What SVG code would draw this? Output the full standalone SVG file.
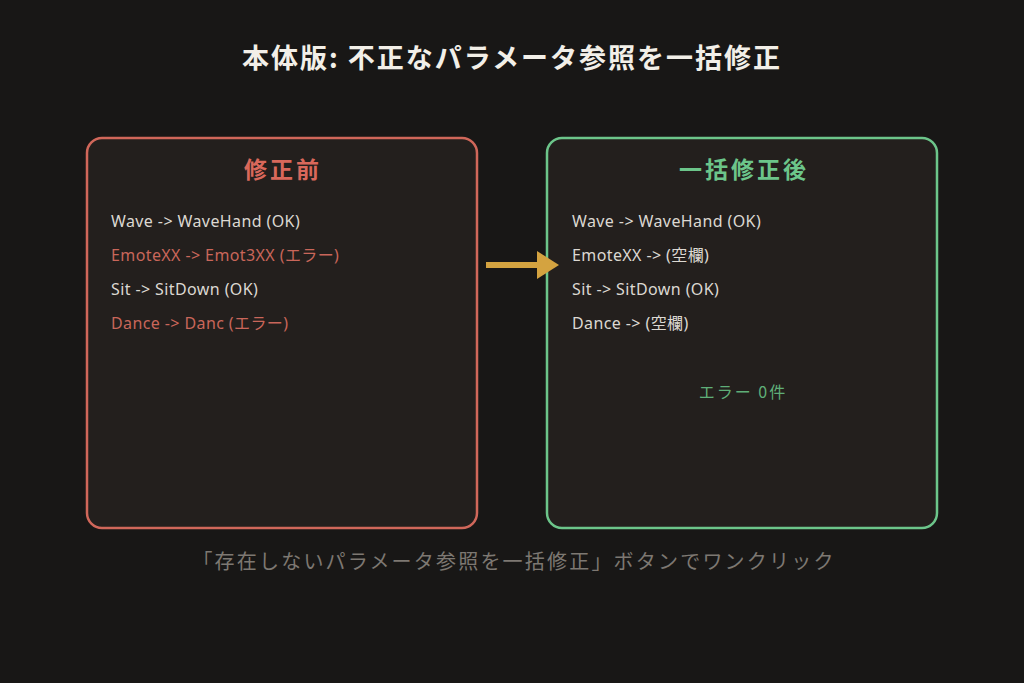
<svg xmlns="http://www.w3.org/2000/svg" width="1024" height="683" viewBox="0 0 1024 683">
<style>
text{font-family:"Noto Sans CJK JP","Noto Sans",sans-serif}
.title{font-size:27px;font-weight:bold;fill:#f2efe8;text-anchor:middle;letter-spacing:2px}
.head{font-size:23px;font-weight:bold;text-anchor:middle;letter-spacing:3px}
.line{font-family:"Noto Sans","Noto Sans CJK JP",sans-serif;font-size:16px;fill:#dcd8d2;letter-spacing:0.4px}
.err{fill:#c9665a}
.foot{font-size:20px;fill:#7d7872;text-anchor:middle;letter-spacing:2.2px}
.box{fill:#231f1d;stroke-width:2.5}
</style>
<rect x="0" y="0" width="1024" height="683" fill="#181716"/>
<text class="title" x="512" y="68">本体版: 不正なパラメータ参照を一括修正</text>
<g id="before">
<rect class="box" x="87" y="138" width="390" height="390" rx="15" stroke="#d0675a"/>
<text class="head" x="283" y="178" fill="#d9685b">修正前</text>
<text class="line" x="111" y="227">Wave -&gt; WaveHand (OK)</text>
<text class="line err" x="111" y="261">EmoteXX -&gt; Emot3XX (エラー)</text>
<text class="line" x="111" y="295">Sit -&gt; SitDown (OK)</text>
<text class="line err" x="111" y="329">Dance -&gt; Danc (エラー)</text>
</g>
<g id="after">
<rect class="box" x="547" y="138" width="390" height="390" rx="15" stroke="#6cc58a"/>
<text class="head" x="744" y="178" fill="#6cc58a">一括修正後</text>
<text class="line" x="572" y="227">Wave -&gt; WaveHand (OK)</text>
<text class="line" x="572" y="261">EmoteXX -&gt; (空欄)</text>
<text class="line" x="572" y="295">Sit -&gt; SitDown (OK)</text>
<text class="line" x="572" y="329">Dance -&gt; (空欄)</text>
<text x="743" y="398" font-size="16" fill="#5fae78" text-anchor="middle" letter-spacing="2">エラー 0件</text>
</g>
<g id="connectors">
<line x1="486" y1="265" x2="540" y2="265" stroke="#d4a340" stroke-width="6"/>
<polygon points="537,251 559,265 537,279" fill="#d4a340"/>
</g>
<text class="foot" x="514" y="569">「存在しないパラメータ参照を一括修正」ボタンでワンクリック</text>
</svg>
